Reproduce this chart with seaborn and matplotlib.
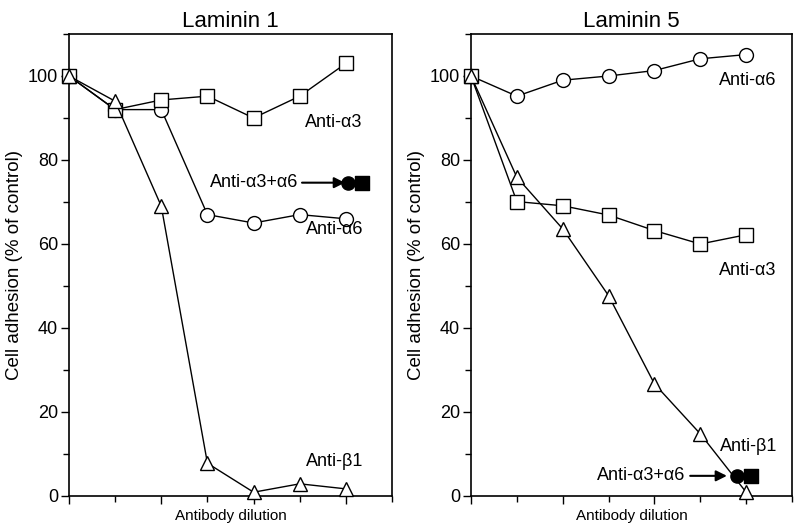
import numpy as np
import pandas as pd
import matplotlib
matplotlib.use('Agg')
import matplotlib.pyplot as plt
import seaborn as sns
from matplotlib.ticker import MultipleLocator

# ------------------------------------------------------------
# data (x = dilution step 0..6)
# ------------------------------------------------------------
dilution = [0, 1, 2, 3, 4, 5, 6]

lam1_a6 = [100, 92, 92, 67, 65, 67, 66]
lam1_a3 = [100, 92, 94.3, 95.2, 90, 95.2, 103]
lam1_b1 = [100, 94, 69, 7.8, 0.9, 2.9, 1.7]
lam1_combo_x = [6.05, 6.36]
lam1_combo_y = [74.6, 74.6]

lam5_a6 = [100, 95.2, 99, 100, 101.3, 104.1, 105.1]
lam5_a3 = [100, 70.1, 69.1, 66.9, 63.2, 60, 62.2]
lam5_b1 = [100, 75.9, 63.6, 47.7, 26.7, 14.8, 0.9]
lam5_combo_x = [5.81, 6.1]
lam5_combo_y = [4.8, 4.8]

titles = ['Laminin 1', 'Laminin 5']
series_names = ['Anti-α6', 'Anti-α3', 'Anti-β1']

sns.set_style('ticks')
plt.rcParams['font.family'] = ['Liberation Sans', 'DejaVu Sans']
plt.rcParams['text.color'] = 'black'
plt.rcParams['axes.labelcolor'] = 'black'
plt.rcParams['xtick.color'] = 'black'
plt.rcParams['ytick.color'] = 'black'

fig = plt.figure(figsize=(7.98, 5.26), dpi=100)
ax1 = fig.add_axes([69/798, 30/526, 323/798, 462/526])
ax2 = fig.add_axes([471/798, 30/526, 321/798, 462/526])

markers = {'Anti-α6': 'o', 'Anti-α3': 's', 'Anti-β1': '^'}


def long_df(a6, a3, b1):
    frames = []
    for name, vals in zip(series_names, [a6, a3, b1]):
        frames.append(pd.DataFrame({'dilution': dilution, 'adhesion': vals, 'antibody': name}))
    return pd.concat(frames, ignore_index=True)


def draw_panel(ax, df, combo_x, combo_y, title):
    sns.lineplot(data=df, x='dilution', y='adhesion', style='antibody',
                 markers=markers, dashes=False, color='black', lw=1.0,
                 markersize=10, markerfacecolor='white', markeredgecolor='black',
                 markeredgewidth=1.0, legend=False, ax=ax, clip_on=False, zorder=3)
    ax.scatter(combo_x[:1], combo_y[:1], marker='o', s=90, color='black', zorder=4)
    ax.scatter(combo_x[1:], combo_y[1:], marker='s', s=90, color='black', zorder=4)
    ax.set_xlim(0, 7)
    ax.set_ylim(0, 110)
    ax.xaxis.set_major_locator(MultipleLocator(2))
    ax.xaxis.set_minor_locator(MultipleLocator(1))
    ax.yaxis.set_major_locator(MultipleLocator(20))
    ax.yaxis.set_minor_locator(MultipleLocator(10))
    ax.set_xticklabels([])
    ax.tick_params(axis='both', which='major', length=6, width=1, direction='out',
                   labelsize=13, color='black', labelcolor='black')
    ax.tick_params(axis='both', which='minor', length=4, width=1, direction='out',
                   color='black')
    ax.tick_params(axis='y', which='major', pad=2)
    for s in ax.spines.values():
        s.set_linewidth(1.2)
        s.set_color('black')
    ax.set_xlabel('Antibody dilution', fontsize=11, labelpad=0, color='black')
    ax.set_ylabel('Cell adhesion (% of control)', fontsize=13.5, labelpad=3, color='black')
    ax.set_title(title, fontsize=16, pad=5, color='black')


draw_panel(ax1, long_df(lam1_a6, lam1_a3, lam1_b1), lam1_combo_x, lam1_combo_y, titles[0])
draw_panel(ax2, long_df(lam5_a6, lam5_a3, lam5_b1), lam5_combo_x, lam5_combo_y, titles[1])

# series labels
lab = dict(fontsize=13, ha='left', va='center', color='black')
ax1.text(5.11, 89, 'Anti-α3', **lab)
ax1.text(5.13, 63.5, 'Anti-α6', **lab)
ax1.text(5.13, 8.2, 'Anti-β1', **lab)
ax2.text(5.41, 99, 'Anti-α6', **lab)
ax2.text(5.41, 53.8, 'Anti-α3', **lab)
ax2.text(5.43, 11.7, 'Anti-β1', **lab)

# combined antibody arrows
ax1.text(4.97, 74.6, 'Anti-α3+α6', fontsize=13, ha='right', va='center', color='black')
ax1.annotate('', xy=(5.98, 74.6), xytext=(5.05, 74.6),
             arrowprops=dict(arrowstyle='-|>', color='black', lw=1.5, mutation_scale=16,
                             shrinkA=0, shrinkB=0))
ax2.text(4.67, 4.8, 'Anti-α3+α6', fontsize=13, ha='right', va='center', color='black')
ax2.annotate('', xy=(5.58, 4.8), xytext=(4.78, 4.8),
             arrowprops=dict(arrowstyle='-|>', color='black', lw=1.5, mutation_scale=16,
                             shrinkA=0, shrinkB=0))

fig.savefig('out.png', dpi=100)
